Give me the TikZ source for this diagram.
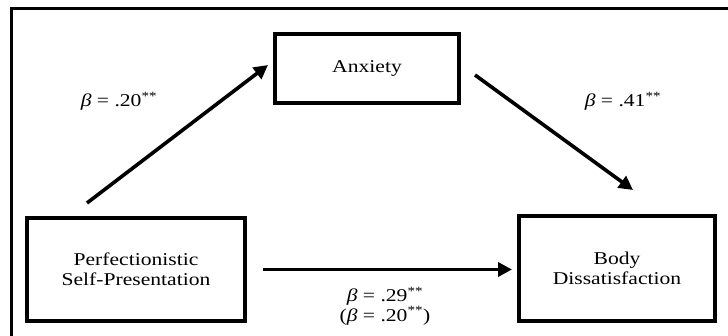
\documentclass[tikz,border=0pt]{standalone}
\usepackage{fontspec}
\setmainfont{Liberation Serif}[FakeStretch=1.2]
\usetikzlibrary{arrows.meta}

\tikzset{
  varbox/.style={draw,line width=4pt,inner sep=0pt,font=\fontsize{18}{19.5}\selectfont,align=center},
  pathline/.style={line width=3.6pt,-{Triangle[length=14pt,width=14pt]}},
  coeff/.style={font=\fontsize{18}{19.5}\selectfont,align=center,inner sep=0pt}
}

\begin{document}
\begin{tikzpicture}[x=1pt,y=-1pt]
\useasboundingbox (0,0) rectangle (728,336);
\draw[line width=3pt] (11,336) -- (11,8.5) -- (728,8.5);
\node[varbox,minimum width=218pt,minimum height=103pt] (psp) at (136.000,269.500) {Perfectionistic\\Self-Presentation};
\node[varbox,minimum width=184pt,minimum height=69pt] (anx) at (367.000,68.500) {Anxiety};
\node[varbox,minimum width=196pt,minimum height=105pt] (bd) at (617.000,268.500) {Body\\Dissatisfaction};
\draw[pathline] ([xshift=-49pt,yshift=13pt]psp.north) -- ([xshift=-5pt,yshift=3.5pt]anx.west);
\draw[pathline] ([xshift=14pt,yshift=-6.5pt]anx.east) -- ([xshift=16pt,yshift=24pt]bd.north);
\draw[pathline,shorten <=16pt,shorten >=5pt] (psp.east) -- (psp.east -| bd.west);
\node[coeff] (ca) at (119.000,101.000) {\textit{β} = .20\textsuperscript{**}};
\node[coeff] (cb) at (623.000,101.000) {\textit{β} = .41\textsuperscript{**}};
\node[coeff] (cc) at (385.000,306.000) {\textit{β} = .29\textsuperscript{**}\\(\textit{β} = .20\textsuperscript{**})};
\end{tikzpicture}
\end{document}
